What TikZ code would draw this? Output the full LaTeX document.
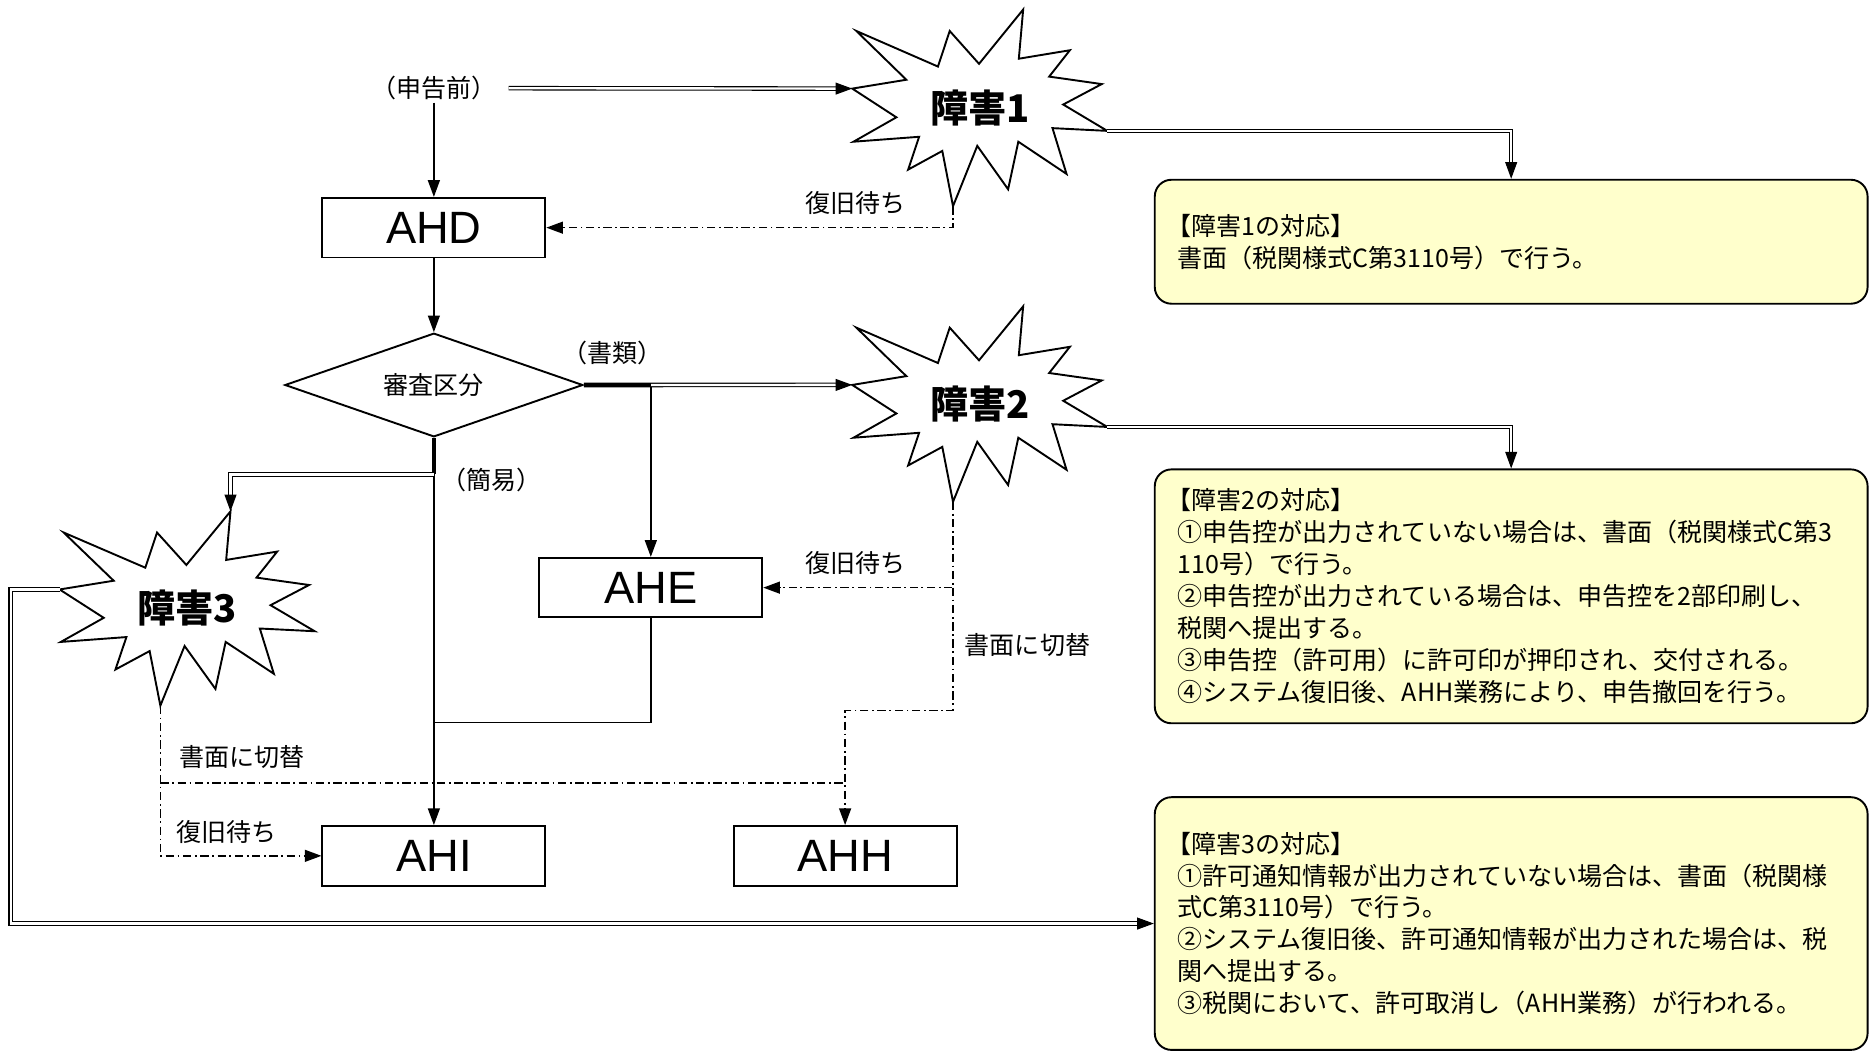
\documentclass[tikz,border=0pt]{standalone}
\usepackage{fontspec}
\setmainfont{Noto Sans CJK JP}
\newfontfamily\latinfont{Liberation Sans}
\usetikzlibrary{arrows.meta,shapes.geometric}
\definecolor{boxyellow}{HTML}{FFFFCC}

\newcommand{\explosion}[6]{%
 \begin{scope}[shift={(#2,#3)}, xscale=#4, yscale=#5]
  \draw[starline] (0.670,0) -- (0.653,0.250) -- (0.853,0.207) -- (0.772,0.341) -- (0.978,0.379) -- (0.827,0.483) -- (1.0,0.617) -- (0.785,0.603) -- (0.840,0.836) -- (0.651,0.672) -- (0.611,0.914) -- (0.490,0.693) -- (0.395,1.0) -- (0.353,0.719) -- (0.219,0.814) -- (0.262,0.647) -- (0.005,0.672) -- (0.173,0.548) -- (0,0.402) -- (0.212,0.357) -- (0.016,0.109) -- (0.336,0.290) -- (0.382,0.109) -- (0.497,0.276) -- cycle;
  \coordinate (#1-top) at (0.670,0);
  \coordinate (#1-right) at (1.0,0.617);
  \coordinate (#1-bot) at (0.395,1.0);
  \coordinate (#1-left) at (0,0.402);
  \node[startext] (#1-lbl) at (0.5,0.5) {#6};
 \end{scope}}

\begin{document}
\begin{tikzpicture}[x=1pt,y=-1pt,
 lbl/.style={inner sep=2pt, font=\fontsize{21}{25}\selectfont},
 proc/.style={draw, line width=1.6pt, minimum width=187pt, minimum height=50pt, inner sep=0pt, font=\latinfont\fontsize{38}{40}\selectfont},
 resbox/.style={draw, line width=1.6pt, fill=boxyellow, rounded corners=14pt, text width=560pt, inner xsep=19pt, inner ysep=0pt, align=left, anchor=north west, font=\fontsize{21}{26.8}\selectfont},
 starline/.style={draw, fill=white, line width=1.6pt, line join=miter},
 startext/.style={inner sep=0pt, font=\fontsize{32}{36}\selectfont\bfseries},
 conn/.style={line width=1.2pt},
 arr/.style={conn, -{Triangle[length=14pt,width=10pt]}},
 dd/.style={line width=1.3pt, dash pattern=on 7pt off 3pt on 1.5pt off 3pt},
 ddarr/.style={dd, -{Triangle[length=14pt,width=10pt]}},
 dbl/.style={double, double distance=2pt, line width=0.9pt, shorten >=13pt},
 arrtip/.style={line width=0.9pt, -{Triangle[length=14pt,width=10pt]}},
]
\path[fill=white, use as bounding box] (0,0) rectangle (1568,881);

% explosions
\explosion{s1}{715}{8}{214}{165}{障害1}
\explosion{s2}{715}{257}{214}{164}{障害2}
\explosion{s3}{50}{429}{214}{163}{障害3}

% main nodes
\node[lbl] (pre) at (364,74) {（申告前）};
\node[proc] (AHD) at (364,191) {AHD};
\node[diamond, aspect=2.87, draw, line width=1.6pt, minimum width=250pt, minimum height=87pt, inner sep=0pt, lbl] (dia) at (364,323) {審査区分};
\node[proc] (AHE) at (546,493) {AHE};
\node[proc] (AHI) at (364,718) {AHI};
\node[proc] (AHH) at (709,718) {AHH};

% result boxes
\node[resbox, minimum height=104pt] (r1) at (968,150) {\hspace*{-0.45em}【障害1の対応】\\書面（税関様式C第3110号）で行う。};
\node[resbox, minimum height=213pt] (r2) at (968,393) {\hspace*{-0.45em}【障害2の対応】\\①申告控が出力されていない場合は、書面（税関様式C第3\\110号）で行う。\\②申告控が出力されている場合は、申告控を2部印刷し、\\税関へ提出する。\\③申告控（許可用）に許可印が押印され、交付される。\\④システム復旧後、AHH業務により、申告撤回を行う。};
\node[resbox, minimum height=212pt] (r3) at (968,668) {\hspace*{-0.45em}【障害3の対応】\\①許可通知情報が出力されていない場合は、書面（税関様\\式C第3110号）で行う。\\②システム復旧後、許可通知情報が出力された場合は、税\\関へ提出する。\\③税関において、許可取消し（AHH業務）が行われる。};

% labels
\node[lbl] (l1) at (718,170) {復旧待ち};
\node[lbl] (l2) at (514,296) {（書類）};
\node[lbl] (l3) at (412,403) {（簡易）};
\node[lbl] (l4) at (718,472) {復旧待ち};
\node[lbl] (l5) at (862,541) {書面に切替};
\node[lbl] (l6) at (203,635) {書面に切替};
\node[lbl] (l7) at (190,698) {復旧待ち};

% junction coordinates
\coordinate (j1) at (546,323);
\coordinate (j2) at (364,398);
\coordinate (j3) at (364,606);
\coordinate (h657) at (0,657);
\coordinate (k0) at (s2-bot |- AHE.east);
\coordinate (k2) at (s3-bot |- h657);

% solid connectors
\draw[arr] (pre.south) -- (AHD.north);
\draw[arr] (AHD.south) -- (dia.north);
\draw[arr] (j1) -- (AHE.north);
\draw[arr] (j2) -- (AHI.north);
\draw[conn] (AHE.south) |- (j3);

% double connectors
\draw[dbl] ([xshift=8pt]pre.east) -- (s1-left);
\draw[arrtip] ([xshift=-14pt]s1-left) -- (s1-left);
\draw[dbl] (s1-right) -| (r1.north);
\draw[arrtip] ([yshift=14pt]r1.north) -- (r1.north);
\draw[dbl] (dia.east) -- (s2-left);
\draw[arrtip] ([xshift=-14pt]s2-left) -- (s2-left);
\draw[line width=3pt] (dia.east) -- (j1);
\draw[dbl] (s2-right) -| (r2.north);
\draw[arrtip] ([yshift=14pt]r2.north) -- (r2.north);
\draw[line width=3pt] (dia.south) -- (j2);
\draw[dbl] (j2) -| (s3-top);
\draw[arrtip] ([yshift=14pt]s3-top) -- (s3-top);
\draw[dbl] (s3-left) -- ++(-41,0) |- (r3.west);
\draw[arrtip] ([xshift=-14pt]r3.west) -- (r3.west);

% dash-dot connectors
\draw[ddarr] (s1-bot) |- (AHD.east);
\draw[ddarr] (s2-bot) |- (AHE.east);
\draw[ddarr] (k0) -- ++(0,103) -| (AHH.north);
\draw[ddarr] (s3-bot) |- (AHI.west);
\draw[dd] (k2) -- (k2 -| AHH.north);
\end{tikzpicture}
\end{document}
